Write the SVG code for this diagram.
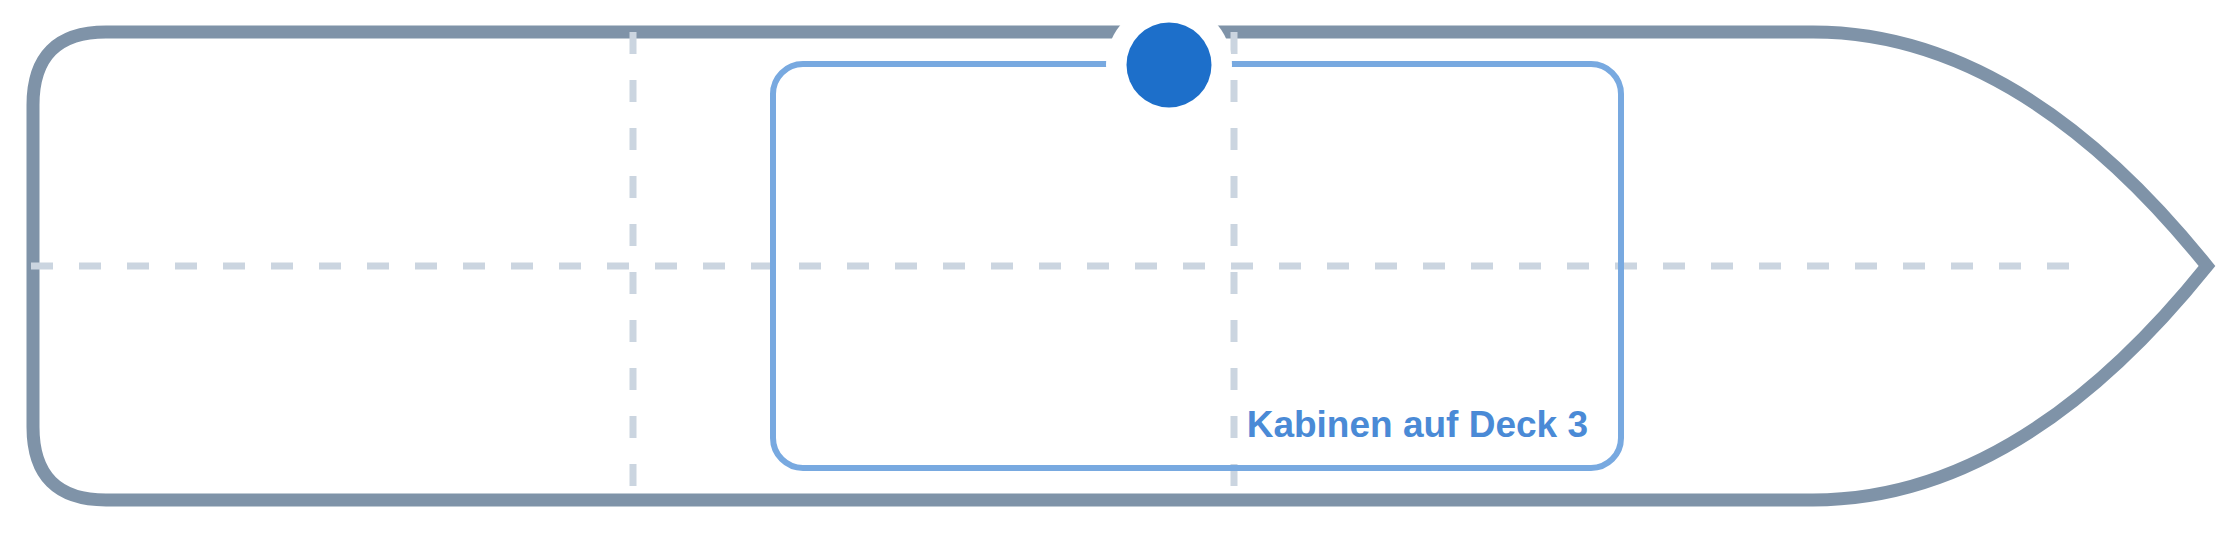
<svg xmlns="http://www.w3.org/2000/svg" width="2240" height="533" viewBox="0 0 2240 533">
<style>
.hull{fill:none;stroke:#7f93a8;stroke-width:13}
.grid{stroke:#cbd5e0;stroke-width:7;stroke-dasharray:22 26;fill:none}
.zone{fill:none;stroke:#78a9e0;stroke-width:6}
.lbl{font-family:"Liberation Sans",Arial,sans-serif;font-weight:bold;font-size:37px;fill:#4a8ad6}
</style>
<rect width="2240" height="533" fill="#ffffff"/>
<g id="hull">
<path class="hull" d="M 106 32 L 1813 32 Q 2019 32 2207 266 Q 2019 500 1813 500 L 106 500 Q 33 500 33 427 L 33 105 Q 33 32 106 32 Z"/>
</g>
<g id="grid">
<line class="grid" x1="31" y1="266" x2="2069" y2="266"/>
<line class="grid" x1="633" y1="32" x2="633" y2="500"/>
<line class="grid" x1="1234" y1="32" x2="1234" y2="500"/>
</g>
<g id="cabins">
<rect class="zone" x="773" y="64" width="848" height="404" rx="30" ry="30"/>
<text class="lbl" x="1588" y="437" text-anchor="end">Kabinen auf Deck 3</text>
</g>
<g id="marker">
<circle cx="1169" cy="65" r="63" fill="#ffffff"/>
<circle cx="1169" cy="65" r="42.5" fill="#1d6fca"/>
</g>
</svg>
